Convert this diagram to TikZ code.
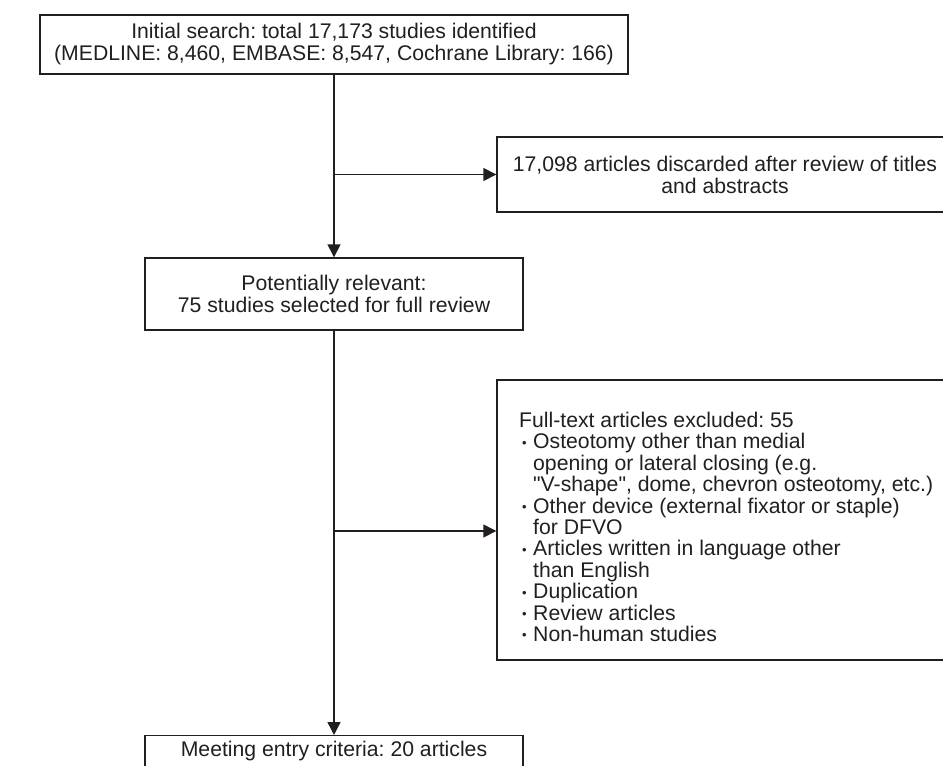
\documentclass[tikz,border=0pt]{standalone}
\usepackage{fontspec}
\setmainfont{Liberation Sans}
\usetikzlibrary{arrows.meta}
\definecolor{ink}{RGB}{35,31,32}
\frenchspacing
\newcommand\fsz{\fontsize{21.2}{22}\selectfont\frenchspacing}
\newcommand\fsy{\fontsize{21.2}{21.4}\selectfont\frenchspacing}
\newcommand\bul{\makebox[14pt][l]{\hspace{3pt}\raisebox{1.6pt}{\fontsize{13}{13}\selectfont\textbullet}}}
\newcommand\ind{\hspace*{14pt}}
\begin{document}
\begin{tikzpicture}[x=1pt,y=-1pt,
  box/.style={draw=ink, line width=1.4pt, inner sep=0pt, align=center, text=ink, font=\fsz},
  txt/.style={inner sep=0pt, align=left, text=ink, font=\fsy},
  arr/.style={draw=ink, line width=1.4pt, -{Triangle[length=13pt,width=13pt]}}]
\useasboundingbox (0,0) rectangle (943,766);
\clip (0,0) rectangle (943,766);
\fill[white] (0,0) rectangle (943,766);
% boxes
\node[box, minimum width=588pt, minimum height=59pt] (top) at (334,44.5)
  {Initial search: total 17,173 studies identified\\(MEDLINE: 8,460, EMBASE: 8,547, Cochrane Library: 166)};
\node[box, minimum width=456pt, minimum height=75pt] (box1) at (725,174.5)
  {17,098 articles discarded after review of titles\\and abstracts};
\node[box, minimum width=378pt, minimum height=72pt] (box2) at (334,294)
  {Potentially relevant:\\75 studies selected for full review};
\node[box, minimum width=456pt, minimum height=280pt] (box3) at (725,520) {};
\node[txt, anchor=north west] (ex) at (519,412) {Full-text articles excluded: 55\\
\bul Osteotomy other than medial\\
\ind opening or lateral closing (e.g.\\
\ind \textquotedbl V-shape\textquotedbl, dome, chevron osteotomy, etc.)\\
\bul Other device (external fixator or staple)\\
\ind for DFVO\\
\bul Articles written in language other\\
\ind than English\\
\bul Duplication\\
\bul Review articles\\
\bul Non-human studies};
\node[box, minimum width=378pt, anchor=north, inner ysep=5pt, text height=15.5pt, text depth=30pt] (bottom) at (334,735)
  {Meeting entry criteria: 20 articles};
% connectors
\coordinate (j1) at (top.south |- box1.west);
\coordinate (j2) at (334,531);
\draw[arr] (top.south) -- (box2.north);
\draw[arr] (j1) -- (box1.west);
\draw[arr] (box2.south) -- (bottom.north);
\draw[arr] (j2) -- (j2 -| box3.west);
\end{tikzpicture}
\end{document}
